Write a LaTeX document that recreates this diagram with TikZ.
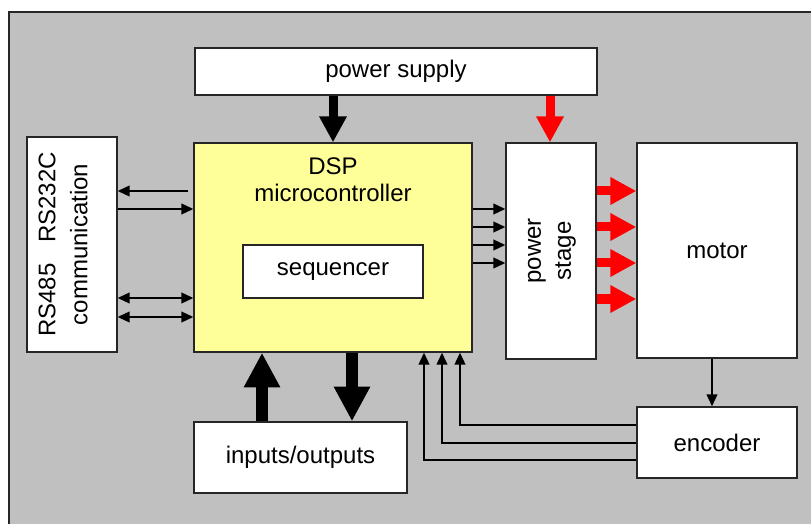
\documentclass[tikz,border=0pt]{standalone}
\usepackage{fontspec}
\setmainfont{Liberation Sans}
\usetikzlibrary{
    arrows.meta,                      % puntas Triangle
    calc                              % aritmetica de coordenadas
}
\definecolor{background_gray}{RGB}{192,192,192}
\definecolor{dsp_yellow}{RGB}{255,255,153}
\definecolor{power_red}{RGB}{255,0,0}
\tikzset{
    block/.style={
        rectangle, draw=black!85, line width=1pt, fill=white,
        align=center, inner sep=0pt,
        font=\fontsize{18}{20.25}\selectfont
    },
    caption/.style={
        align=center, inner sep=0pt,
        font=\fontsize{18}{20.25}\selectfont
    },
    arrow/.style={
        -{Triangle[length=9pt,width=8pt]}, line width=1.5pt
    },
    biarrow/.style={
        {Triangle[length=9pt,width=8pt]}-{Triangle[length=9pt,width=8pt]},
        line width=1.5pt
    },
    bus/.style={
        -{Triangle[length=26pt,width=25.5pt]}, line width=9pt
    },
    feed/.style={
        -{Triangle[length=19.5pt,width=19.5pt]}, line width=6.75pt
    }
}

\begin{document}
\begin{tikzpicture}[x=0.75pt, y=-0.75pt]
    \useasboundingbox (0,0) rectangle (811,524);
    \clip (0,0) rectangle (811,524);

    % --- Fondo ---
    \draw[black!85, line width=1pt, fill=background_gray] (9,12) rectangle (830,540);

    % --- Bloques ---
    \node[block, minimum width=301.5pt, minimum height=35.25pt] (supply) at (396,71.5)
        {power supply};
    \node[block, minimum width=67.5pt, minimum height=161.25pt] (comm) at (72,244.5) {};
    \node[caption, rotate=90, font=\fontsize{18}{24}\selectfont] (commtext) at (63,244.5)
        {RS485\hspace{0.86em}RS232C\\communication};
    \node[block, fill=dsp_yellow, minimum width=208.5pt, minimum height=156.75pt] (dsp)
        at (333,247.5) {};
    \node[caption, anchor=north, font=\fontsize{18}{20.25}\selectfont] (dsptext) at (333,157)
        {DSP\\microcontroller};
    \node[block, minimum width=135pt, minimum height=39.75pt] (seq) at (333,271.5)
        {sequencer};
    \node[block, minimum width=67.5pt, minimum height=162pt] (stage) at (551,251) {};
    \node[caption, rotate=90, font=\fontsize{18}{22.5}\selectfont] (stagetext) at (552,251)
        {power\\stage};
    \node[block, minimum width=120pt, minimum height=161.25pt] (motor) at (717,250.5)
        {motor};
    \node[block, minimum width=159.75pt, minimum height=53.25pt] (io) at (300.5,457.5)
        {inputs/outputs};
    \node[block, minimum width=120pt, minimum height=53.25pt] (enc) at (717,442.5)
        {encoder};

    % --- Alimentacion ---
    \draw[feed] (supply.south -| dsp.north) -- (dsp.north);
    \draw[feed, power_red] (supply.south -| 550,0) -- (stage.north -| 550,0);

    % --- Comunicacion ---
    \draw[arrow, shorten <=3.75pt] (dsp.west |- 0,191) -- (comm.east |- 0,191);
    \draw[arrow] (comm.east |- 0,209) -- (dsp.west |- 0,209);
    \foreach \y in {298,317}
        \draw[biarrow] (comm.east |- 0,\y) -- (dsp.west |- 0,\y);

    % --- Etapa de potencia y motor ---
    \foreach \y in {209,227,245,263}
        \draw[arrow] (dsp.east |- 0,\y) -- (stage.west |- 0,\y);
    \foreach \y in {191,227,263,299}
        \draw[feed, power_red] (stage.east |- 0,\y) -- (motor.west |- 0,\y);

    % --- Entradas/salidas ---
    \draw[bus] (io.north -| 262,0) -- (dsp.south -| 262,0);
    \draw[bus] (dsp.south -| 352,0) -- (io.north -| 352,0);

    % --- Realimentacion del encoder ---
    \draw[arrow] (motor.south -| 712,0) -- (enc.north -| 712,0);
    \foreach \x/\y in {460/425, 442/443, 424/460}
        \draw[arrow] (enc.west |- 0,\y) -| (dsp.south -| \x,0);
\end{tikzpicture}
\end{document}
